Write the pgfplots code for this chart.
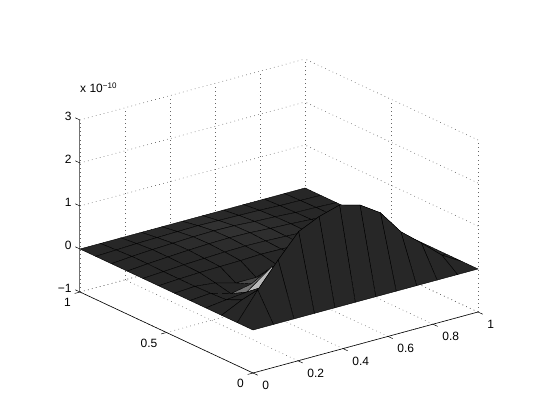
\documentclass[border=0pt]{standalone}
\usepackage{fontspec}
\setmainfont{Liberation Sans}
\usepackage{pgfplots}
\usepackage{pgfplotstable}
\pgfplotsset{compat=1.18}

% surface in units of 1e-10, columns x y z gray
\pgfplotstableread{
x y z m
0 0 0 .15
0.0909 0 0 .15
0.1818 0 0 .15
0.2727 0 0 .15
0.3636 0 0 .15
0.4545 0 0 .15
0.5455 0 0 .15
0.6364 0 0 .15
0.7273 0 0 .15
0.8182 0 0 .15
0.9091 0 0 .15
1 0 0 .15
0 0.0909 0 .15
0.0909 0.0909 .63 .15
0.1818 0.0909 1.2 .15
0.2727 0.0909 1.73 .15
0.3636 0.0909 1.95 .15
0.4545 0.0909 2.09 .15
0.5455 0.0909 1.96 .15
0.6364 0.0909 1.65 .15
0.7273 0.0909 1.08 .15
0.8182 0.0909 .69 .15
0.9091 0.0909 .28 .15
1 0.0909 0 .15
0 0.1818 0 .15
0.0909 0.1818 .23 .15
0.1818 0.1818 .40 .72
0.2727 0.1818 .15 .15
0.3636 0.1818 .10 .15
0.4545 0.1818 .08 .15
0.5455 0.1818 .08 .15
0.6364 0.1818 .06 .15
0.7273 0.1818 .05 .15
0.8182 0.1818 .04 .15
0.9091 0.1818 .02 .15
1 0.1818 0 .15
0 0.2727 0 .15
0.0909 0.2727 .06 .15
0.1818 0.2727 .11 .45
0.285 0.2607 .58 .15
0.3636 0.2727 .05 .15
0.4545 0.2727 .06 .15
0.5455 0.2727 .05 .15
0.6364 0.2727 .05 .15
0.7273 0.2727 .04 .15
0.8182 0.2727 .03 .15
0.9091 0.2727 .02 .15
1 0.2727 0 .15
0 0.3636 0 .15
0.0909 0.3636 .04 .15
0.1818 0.3636 -.10 .15
0.2727 0.3636 0 .28
0.3636 0.3636 .02 .15
0.4545 0.3636 .06 .15
0.5455 0.3636 .07 .15
0.6364 0.3636 .06 .15
0.7273 0.3636 .05 .15
0.8182 0.3636 .03 .15
0.9091 0.3636 .02 .15
1 0.3636 0 .15
0 0.4545 0 .15
0.0909 0.4545 .03 .15
0.1818 0.4545 -.02 .15
0.2727 0.4545 -.15 .15
0.3636 0.4545 -.15 .15
0.4545 0.4545 .02 .15
0.5455 0.4545 .05 .15
0.6364 0.4545 .08 .15
0.7273 0.4545 .06 .15
0.8182 0.4545 .04 .15
0.9091 0.4545 .02 .15
1 0.4545 0 .15
0 0.5455 0 .15
0.0909 0.5455 .03 .15
0.1818 0.5455 .05 .15
0.2727 0.5455 .06 .16
0.3636 0.5455 .07 .16
0.4545 0.5455 .09 .17
0.5455 0.5455 .08 .17
0.6364 0.5455 .07 .16
0.7273 0.5455 .06 .15
0.8182 0.5455 .04 .15
0.9091 0.5455 .02 .15
1 0.5455 0 .15
0 0.6364 0 .15
0.0909 0.6364 .03 .15
0.1818 0.6364 .06 .15
0.2727 0.6364 .08 .16
0.3636 0.6364 .10 .17
0.4545 0.6364 .11 .18
0.5455 0.6364 .10 .18
0.6364 0.6364 .08 .17
0.7273 0.6364 .06 .15
0.8182 0.6364 .04 .15
0.9091 0.6364 .02 .15
1 0.6364 0 .15
0 0.7273 0 .15
0.0909 0.7273 .04 .15
0.1818 0.7273 .07 .16
0.2727 0.7273 .10 .17
0.3636 0.7273 .12 .18
0.4545 0.7273 .13 .19
0.5455 0.7273 .12 .19
0.6364 0.7273 .09 .17
0.7273 0.7273 .07 .16
0.8182 0.7273 .04 .15
0.9091 0.7273 .02 .15
1 0.7273 0 .15
0 0.8182 0 .15
0.0909 0.8182 .04 .15
0.1818 0.8182 .07 .16
0.2727 0.8182 .09 .17
0.3636 0.8182 .11 .18
0.4545 0.8182 .12 .19
0.5455 0.8182 .11 .18
0.6364 0.8182 .08 .17
0.7273 0.8182 .06 .15
0.8182 0.8182 .03 .15
0.9091 0.8182 .02 .15
1 0.8182 0 .15
0 0.9091 0 .15
0.0909 0.9091 .02 .15
0.1818 0.9091 .04 .15
0.2727 0.9091 .05 .16
0.3636 0.9091 .06 .16
0.4545 0.9091 .07 .17
0.5455 0.9091 .06 .16
0.6364 0.9091 .05 .15
0.7273 0.9091 .04 .15
0.8182 0.9091 .02 .15
0.9091 0.9091 .01 .15
1 0.9091 0 .15
0 1 0 .15
0.0909 1 0 .15
0.1818 1 0 .15
0.2727 1 0 .15
0.3636 1 0 .15
0.4545 1 0 .15
0.5455 1 0 .15
0.6364 1 0 .15
0.7273 1 0 .15
0.8182 1 0 .15
0.9091 1 0 .15
1 1 0 .15
}\surfdata

\begin{document}
\begin{tikzpicture}
\useasboundingbox (0,0) rectangle (538pt,420pt);
\begin{axis}[
  at={(253pt,90pt)}, anchor=origin,
  x={(225pt,61pt)}, y={(-173pt,81pt)}, z={(0pt,43pt)},
  xmin=0, xmax=1, ymin=0, ymax=1, zmin=-1, zmax=3,
  xtick={0,0.2,0.4,0.6,0.8,1}, xticklabels={0,0.2,0.4,0.6,0.8,1},
  ytick={0,0.5,1}, yticklabels={0,0.5,1},
  ztick={-1,0,1,2,3}, zticklabels={−1,0,1,2,3},
  scaled ticks=false,
  xtick pos=left, ytick pos=left, ztick pos=left,
  tick align=outside,
  tick label style={font=\fontsize{12}{14}\selectfont,inner sep=0pt},
  x tick label style={anchor=north west,xshift=4.7pt,yshift=-5.9pt},
  y tick label style={anchor=north east,xshift=-4.2pt,yshift=-4.7pt},
  z tick label style={anchor=east,xshift=-3.7pt,yshift=1.5pt},
  major tick length=5pt,
  tick style={draw=none},
  axis line style={draw=none},
  grid=major,
  grid style={black!60,line width=0.6pt,dash pattern=on 0.7pt off 3.4pt},
  colormap={bw}{color(0)=(black) color(1)=(white)},
  point meta min=0, point meta max=1,
  clip=false,
]
\addplot3[surf, shader=flat corner, draw=black, line width=0.4pt,
  mesh/cols=12, point meta=explicit]
  table[x=x, y=y, z=z, meta=m] {\surfdata};
\draw[black,line width=0.6pt] (axis cs:0,1,-1) -- (axis cs:0,0,-1) -- (axis cs:1,0,-1);
\draw[black!55,line width=1pt] (axis cs:0,1,-1) -- (axis cs:0,1,3);
\pgfplotsinvokeforeach{0,0.2,0.4,0.6,0.8,1}{
  \draw[black,line width=0.5pt] (axis cs:#1,0,-1) -- (axis cs:#1,-0.027,-1);}
\pgfplotsinvokeforeach{0,0.5,1}{
  \draw[black,line width=0.5pt] (axis cs:0,#1,-1) -- (axis cs:-0.024,#1,-1);}
\pgfplotsinvokeforeach{-1,0,1,2,3}{
  \draw[black,line width=0.5pt] (axis cs:0,1,#1) -- (axis cs:0,1.027,#1);}
\end{axis}
\node[anchor=base west,font=\fontsize{12}{14}\selectfont,inner sep=0pt] at (80pt,327pt) {x 10\textsuperscript{−10}};
\end{tikzpicture}
\end{document}
